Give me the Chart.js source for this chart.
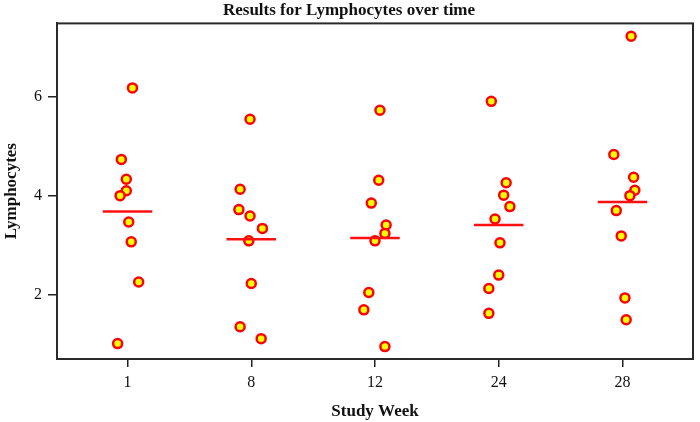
<!DOCTYPE html>
<html>
<head>
<meta charset="utf-8">
<script src="https://cdn.jsdelivr.net/npm/chart.js@4"></script>
<style>
  html, body { margin: 0; padding: 0; background: #ffffff; }
  #wrap { width: 700px; height: 422px; position: relative; }
</style>
</head>
<body>
<div id="wrap"><canvas id="c" width="700" height="422"></canvas></div>
<script>
// ---- data ----
const weekLabels = ['1', '8', '12', '24', '28'];
const yTickValues = [2, 4, 6];

// Lymphocyte values per study week
const week1Values  = [6.17, 4.73, 4.33, 4.10, 4.00, 3.47, 3.07, 2.26, 1.02];
const week8Values  = [5.54, 4.13, 3.72, 3.59, 3.34, 3.09, 2.23, 1.36, 1.12];
const week12Values = [5.72, 4.31, 3.85, 3.41, 3.24, 3.09, 2.05, 1.70, 0.96];
const week24Values = [5.90, 4.26, 4.01, 3.78, 3.53, 3.05, 2.40, 2.13, 1.63];
const week28Values = [7.21, 4.83, 4.37, 4.11, 4.00, 3.70, 3.19, 1.94, 1.50];

// horizontal jitter of each point (in category units) as seen in the picture
const week1Jitter  = [0.04, -0.05, -0.01, -0.01, -0.06, 0.01, 0.03, 0.09, -0.08];
const week8Jitter  = [-0.01, -0.09, -0.10, -0.01, 0.09, -0.02, 0.00, -0.09, 0.08];
const week12Jitter = [0.04, 0.03, -0.03, 0.09, 0.08, 0.00, -0.05, -0.09, 0.08];
const week24Jitter = [-0.06, 0.06, 0.04, 0.09, -0.03, 0.01, 0.00, -0.08, -0.08];
const week28Jitter = [0.07, -0.07, 0.09, 0.10, 0.06, -0.05, -0.01, 0.02, 0.03];

const allValues = [week1Values, week8Values, week12Values, week24Values, week28Values];
const allJitter = [week1Jitter, week8Jitter, week12Jitter, week24Jitter, week28Jitter];

// ---- build datasets ----
const points = [];
allValues.forEach((vals, i) => {
  vals.forEach((v, j) => points.push({ x: i + allJitter[i][j], y: v }));
});

const meanHalfWidth = 0.2;
const datasets = [];
allValues.forEach((vals, i) => {
  const mean = vals.reduce((a, b) => a + b, 0) / vals.length;
  datasets.push({
    type: 'line',
    data: [{ x: i - meanHalfWidth, y: mean }, { x: i + meanHalfWidth, y: mean }],
    borderColor: '#ff1010',
    borderWidth: 2.5,
    pointRadius: 0,
    fill: false,
    order: 0
  });
});
datasets.push({
  type: 'scatter',
  data: points,
  backgroundColor: '#ffff00',
  borderColor: '#ff0000',
  borderWidth: 2.5,
  pointRadius: 4.5,
  pointHoverRadius: 4.5,
  order: 1
});

const frame = {
  id: 'frame',
  afterDraw(chart) {
    const a = chart.chartArea, ctx = chart.ctx;
    ctx.save();
    ctx.strokeStyle = '#2a2a2a';
    ctx.lineWidth = 2;
    ctx.strokeRect(a.left, a.top, a.right - a.left, a.bottom - a.top);
    ctx.restore();
  }
};

const serif = "'Liberation Serif', 'DejaVu Serif', serif";

new Chart(document.getElementById('c'), {
  type: 'scatter',
  data: { datasets },
  plugins: [frame],
  options: {
    responsive: false,
    animation: false,
    events: [],
    layout: { padding: { top: 0, right: 2, bottom: 0, left: 0 } },
    plugins: {
      legend: { display: false },
      tooltip: { enabled: false },
      title: {
        display: true,
        text: 'Results for Lymphocytes over time',
        color: '#111',
        font: { family: serif, size: 17, weight: 'bold' },
        padding: { top: 0, bottom: 3 }
      }
    },
    scales: {
      x: {
        type: 'linear',
        min: -0.57,
        max: 4.57,
        afterBuildTicks(scale) { scale.ticks = weekLabels.map((_, i) => ({ value: i })); },
        afterFit(scale) { scale.height = 63; },
        ticks: {
          color: '#111',
          font: { family: serif, size: 16 },
          padding: 6,
          maxRotation: 0,
          autoSkip: false,
          callback: (v) => weekLabels[v]
        },
        grid: { display: true, drawOnChartArea: false, drawTicks: true, tickLength: 8, color: '#222', lineWidth: 1.5 },
        border: { display: true, color: '#222', width: 2 },
        title: {
          display: true,
          text: 'Study Week',
          color: '#111',
          font: { family: serif, size: 17, weight: 'bold' },
          padding: { top: 2, bottom: 0 }
        }
      },
      y: {
        type: 'linear',
        min: 0.71,
        max: 7.47,
        afterBuildTicks(scale) { scale.ticks = yTickValues.map(v => ({ value: v })); },
        afterFit(scale) { scale.width = 57; },
        ticks: {
          color: '#111',
          font: { family: serif, size: 16 },
          padding: 6,
          callback: (v) => String(v)
        },
        grid: { display: true, drawOnChartArea: false, drawTicks: true, tickLength: 9, color: '#222', lineWidth: 1.5 },
        border: { display: true, color: '#222', width: 2 },
        title: {
          display: true,
          text: 'Lymphocytes',
          color: '#111',
          font: { family: serif, size: 17, weight: 'bold' },
          padding: { top: 1, bottom: 0 }
        }
      }
    }
  }
});
</script>
</body>
</html>
